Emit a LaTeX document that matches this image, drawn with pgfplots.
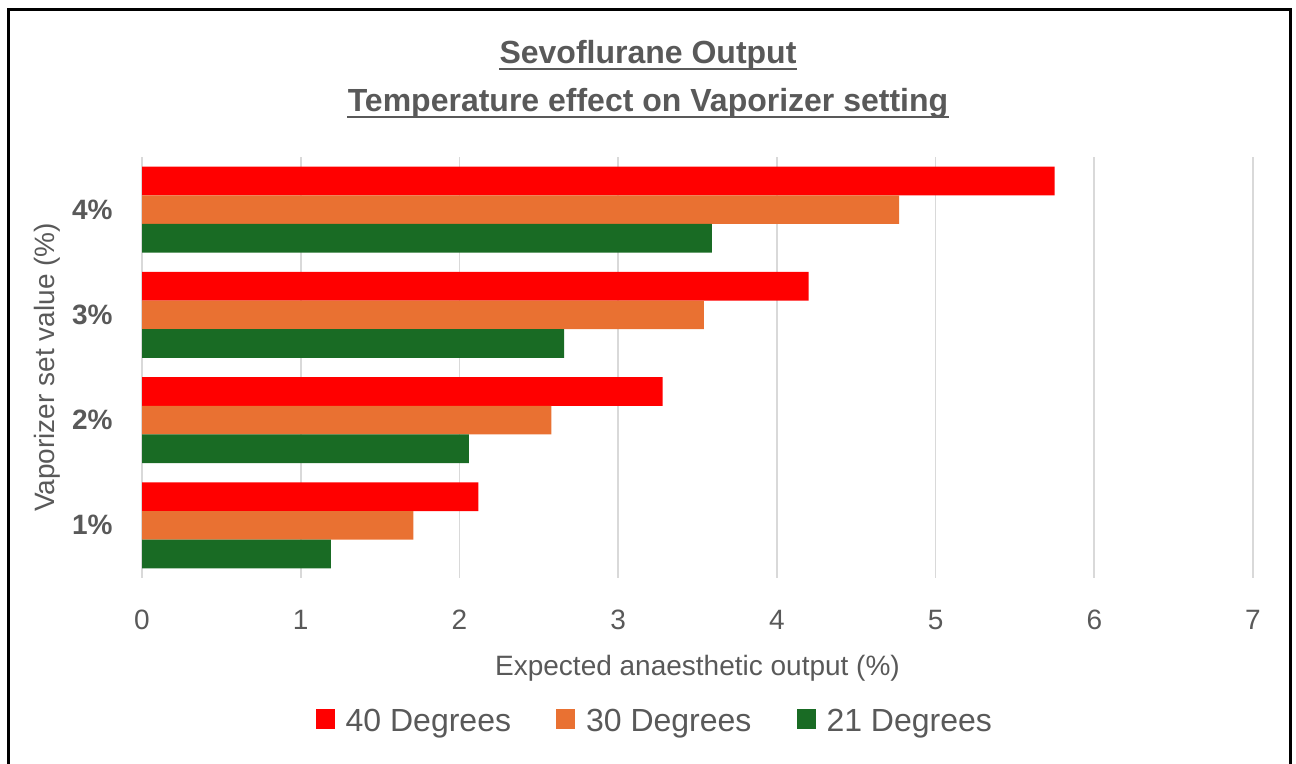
\documentclass[border=0pt]{standalone}
\usepackage{fontspec}
\setmainfont{Liberation Sans}
\usepackage{pgfplots}
\pgfplotsset{compat=1.18}
\definecolor{txt}{HTML}{595959}
\definecolor{cRed}{HTML}{FF0000}
\definecolor{cOrange}{HTML}{E97132}
\definecolor{cGreen}{HTML}{196B24}
\definecolor{gridc}{HTML}{D9D9D9}
\begin{document}
\begin{tikzpicture}[x=1pt,y=1pt]
\useasboundingbox (0,0) rectangle (648,382);
\draw[line width=1.5pt,black] (4,-10) rectangle (645,377);
% titles
\node[anchor=base,inner sep=0,text=txt,font=\fontsize{16}{19}\selectfont\bfseries] (t1) at (324,350) {Sevoflurane Output};
\draw[txt,line width=0.8pt] ([yshift=-2.5pt]t1.base west) -- ([yshift=-2.5pt]t1.base east);
\node[anchor=base,inner sep=0,text=txt,font=\fontsize{16}{19}\selectfont\bfseries] (t2) at (324,326) {Temperature effect on Vaporizer setting};
\draw[txt,line width=0.8pt] ([yshift=-2.5pt]t2.base west) -- ([yshift=-2.5pt]t2.base east);
\begin{axis}[
  at={(71pt,93pt)}, anchor=south west,
  scale only axis, width=555.5pt, height=210.5pt,
  xbar, bar width=0.2717,
  xmin=0, xmax=7, ymin=0.5, ymax=4.5,
  xtick={0,1,2,3,4,5,6,7},
  ytick={1,2,3,4}, yticklabels={1\%,2\%,3\%,4\%},
  axis line style={draw=none},
  major tick length=0,
  xmajorgrids=true, ymajorgrids=false,
  x grid style={gridc, line width=0.9pt},
  tick label style={text=txt, font=\fontsize{14}{17}\selectfont},
  /pgf/number format/assume math mode=true,
  xticklabel style={anchor=base, yshift=-26pt},
  yticklabel style={anchor=east, inner sep=0pt, xshift=-14.5pt, font=\fontsize{14}{17}\selectfont\bfseries},
  xlabel={Expected anaesthetic output (\%)},
  xlabel style={at={(axis description cs:0.5,0)}, anchor=base, yshift=-49pt, text=txt, font=\fontsize{14}{17}\selectfont},
  legend columns=3,
  legend style={at={(axis description cs:0.4625,-0.342)}, anchor=center, draw=none, fill=none,
     text=txt, font=\fontsize{16}{19}\selectfont,
     /tikz/every odd column/.append style={column sep=3.5pt},
     /tikz/every even column/.append style={column sep=20.5pt}},
  legend image code/.code={\fill[#1] (0pt,-3.5pt) rectangle (9.5pt,6.5pt);},
]
\addplot[fill=cRed, draw=none, bar shift=0.2717] coordinates {(2.12,1) (3.28,2) (4.20,3) (5.75,4)};
\addplot[fill=cOrange, draw=none, bar shift=0] coordinates {(1.71,1) (2.58,2) (3.54,3) (4.77,4)};
\addplot[fill=cGreen, draw=none, bar shift=-0.2717] coordinates {(1.19,1) (2.06,2) (2.66,3) (3.59,4)};
\legend{40 Degrees, 30 Degrees, 21 Degrees}
\end{axis}
\node[rotate=90, text=txt, font=\fontsize{14}{17}\selectfont] at (23.5,198.25) {Vaporizer set value (\%)};
\end{tikzpicture}
\end{document}
